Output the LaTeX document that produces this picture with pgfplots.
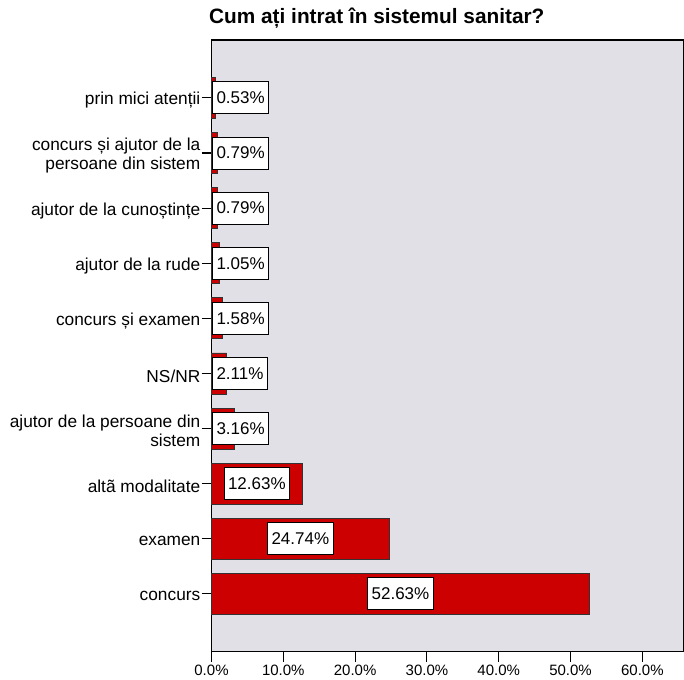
\documentclass[border=0pt]{standalone}
\usepackage{pgfplots}
\pgfplotsset{compat=1.18}
\usepackage{fontspec}
\setmainfont{Liberation Sans}
\definecolor{bgc}{RGB}{225,224,230}
\definecolor{barred}{RGB}{204,0,0}
\begin{document}
\begin{tikzpicture}
\path[use as bounding box] (0,0) rectangle (684pt,679pt);
\begin{axis}[
  at={(211.5pt,27.3pt)}, anchor=south west,
  width=472.5pt, height=611.7pt, scale only axis,
  xmin=0, xmax=65.8, ymin=-1.05, ymax=10.05,
  axis background/.style={fill=bgc},
  axis line style={black, line width=1.1pt},
  tick style={black, line width=1.1pt},
  tick align=outside, major tick length=10pt,
  xtick pos=bottom, ytick pos=left,
  xtick={0,10,20,30,40,50,60},
  xticklabels={0.0\%,10.0\%,20.0\%,30.0\%,40.0\%,50.0\%,60.0\%},
  xticklabel style={font=\fontsize{15}{17}\selectfont, inner sep=2pt, yshift=-1pt},
  ytick={0,1,2,3,4,5,6,7,8,9},
  yticklabels={concurs, examen, altã modalitate, {ajutor de la persoane din\\sistem}, NS/NR, concurs și examen, ajutor de la rude, ajutor de la cunoștințe, {concurs și ajutor de la\\persoane din sistem}, prin mici atenții},
  yticklabel style={font=\fontsize{17.3}{19.5}\selectfont, align=right, inner xsep=1pt, yshift=-2.5pt},
  title={Cum ați intrat în sistemul sanitar?},
  title style={font=\bfseries\fontsize{20.8}{24}\selectfont, at={(0,1)}, anchor=base west, xshift=-2.5pt, yshift=10pt, inner sep=0pt},
  clip=false,
]
\addplot[xbar, bar width=0.744, fill=barred, draw=black!80, line width=0.8pt]
coordinates {
(52.63,0) (24.74,1) (12.63,2) (3.16,3) (2.11,4) (1.58,5) (1.05,6) (0.79,7) (0.79,8) (0.53,9)
};
% centred labels on long bars
\addplot[draw=none, mark=none, nodes near coords, point meta=explicit symbolic,
  every node near coord/.append style={anchor=center, fill=white, draw=black, line width=0.8pt,
  font=\fontsize{17}{19}\selectfont, inner xsep=4pt, inner ysep=0pt, minimum height=32pt}]
coordinates {
(26.315,0) [52.63\%]
(12.37,1) [24.74\%]
(6.315,2) [12.63\%]
};
% labels on short bars, starting at the axis
\addplot[draw=none, mark=none, nodes near coords, point meta=explicit symbolic,
  every node near coord/.append style={anchor=west, xshift=0.6pt, fill=white, draw=black, line width=0.8pt,
  font=\fontsize{17}{19}\selectfont, inner xsep=4pt, inner ysep=0pt, minimum height=32pt}]
coordinates {
(0,3) [3.16\%]
(0,4) [2.11\%]
(0,5) [1.58\%]
(0,6) [1.05\%]
(0,7) [0.79\%]
(0,8) [0.79\%]
(0,9) [0.53\%]
};
\end{axis}
\end{tikzpicture}
\end{document}
